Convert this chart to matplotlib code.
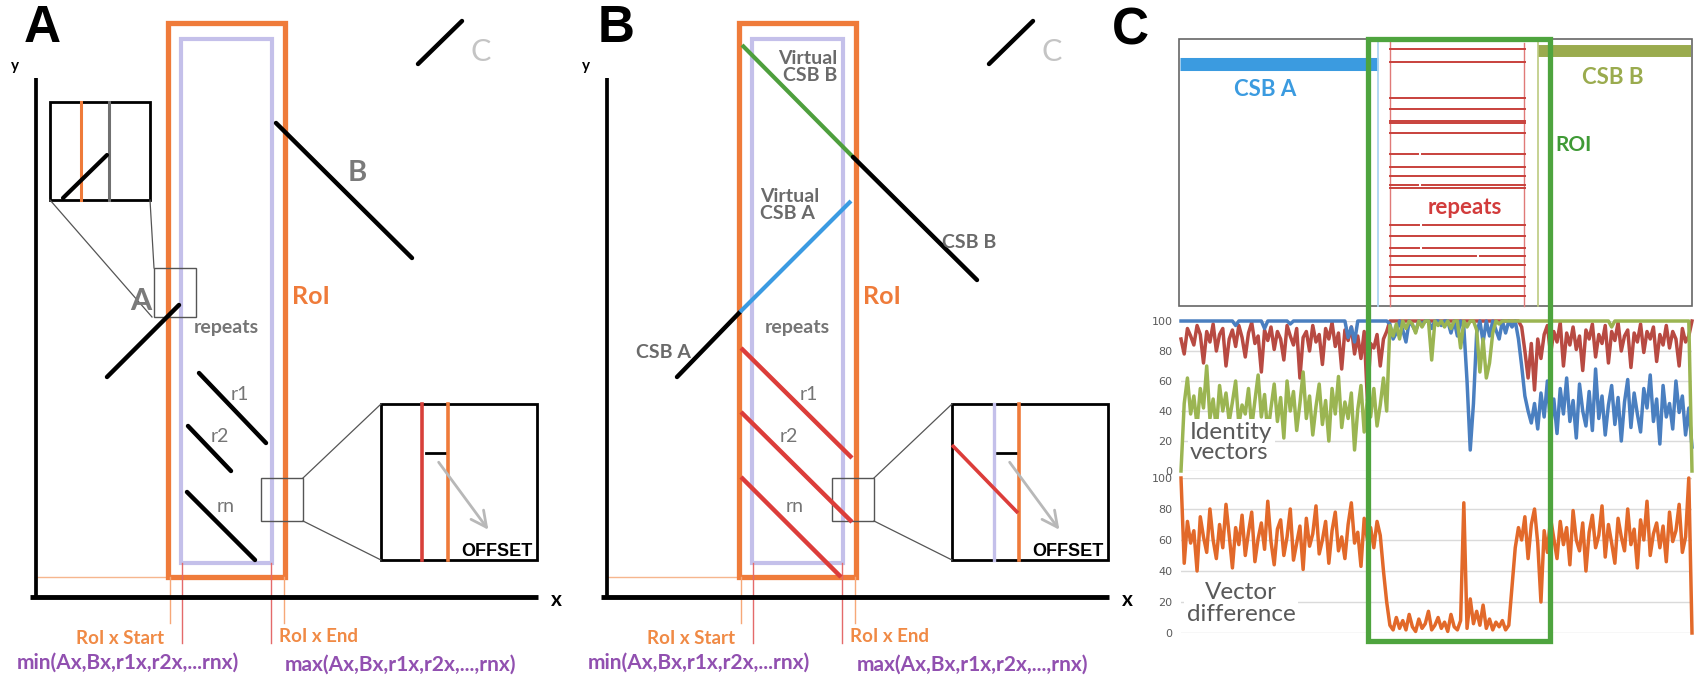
import numpy as np
import matplotlib
matplotlib.use("Agg")
import matplotlib.pyplot as plt
from matplotlib.patches import Rectangle

W, H = 1697, 677
PANEL_W = 571
FONT = ["Lato", "DejaVu Sans"]

ORANGE = "#ef7b3a"
LAVENDER = "#c4c0ea"
RED = "#dc3d3a"
GRAY_TXT = "#757575"
PURPLE = "#9150b0"

# ---- schematic geometry for panels A and B (panel pixels, y grows downward)
roi_box = [168, 23, 285, 577]
span_box = [181, 39, 272, 563]
y_axis = [[36, 78], [36, 597]]
x_axis = [[30, 597], [538, 597]]
seg_C = [[418, 64], [462, 21]]
small_box = [261, 478, 303, 521]
big_box = [381, 404, 537, 560]

# panel A
csb_a_A = [[107, 377], [179, 305]]
csb_b_A = [[276, 123], [412, 258]]
repeats_A = [[[199, 373], [266, 443]], [[188, 426], [231, 471]], [[187, 492], [255, 560]]]
repeat_names = ["r1", "r2", "rn"]
repeat_label_A = [[240, 395], [220, 437], [226, 507]]
left_inset = [50, 102, 150, 200]
left_small = [154, 268, 196, 317]

# panel B
csb_a_B = [[106, 377], [169, 312]]
virtual_a_B = [[169, 312], [280, 201]]
virtual_b_B = [[171, 45], [282, 157]]
csb_b_B = [[282, 157], [406, 280]]
repeats_B = [[[170, 348], [281, 458]], [[170, 412], [281, 522]], [[170, 477], [270, 577]]]
repeat_label_B = [[238, 395], [218, 437], [224, 507]]

# ---- panel C top schematic (figure pixels)
c_box = [1179, 39, 1692, 306]
roi_green = [1368, 39, 1550, 641]
repeat_rows = [49, 62, 98, 109, 121, 123, 133, 154, 167, 176, 185, 188,
               225, 236, 248, 256, 265, 277, 286, 296]
repeat_gaps = {154: 1420, 185: 1420, 225: 1421, 248: 1421, 256: 1478}

# ---- panel C series (identity %, vector difference %)
red_identity = [
    88, 78, 95, 90, 84, 97, 91, 72, 93, 86,
    98, 80, 91, 95, 70, 88, 94, 83, 97, 89,
    76, 92, 99, 85, 90, 66, 94, 87, 96, 81,
    93, 88, 74, 97, 90, 84, 95, 62, 89, 93,
    80, 97, 86, 91, 71, 95, 88, 99, 83, 92,
    68, 94, 87, 96, 78, 90, 75, 93, 47, 85,
    82, 91, 70, 88, 93, 100, 100, 100, 100, 100,
    100, 100, 100, 100, 100, 100, 100, 100, 100, 100,
    100, 100, 100, 100, 100, 100, 100, 100, 100, 100,
    100, 100, 100, 100, 100, 100, 100, 100, 100, 100,
    100, 100, 100, 100, 100, 100, 96, 80, 62, 85,
    54, 88, 75, 91, 97, 78, 93, 86, 99, 70,
    92, 84, 96, 81, 90, 67, 94, 88, 98, 76,
    91, 85, 97, 72, 93, 87, 99, 80, 90, 94,
    69, 92, 86, 98, 79, 93, 88, 96, 73, 91,
    84, 97, 82, 93, 88, 70, 95, 86, 90, 100,
]
blue_identity = [
    100, 100, 100, 100, 100, 100, 100, 100, 100, 100,
    100, 100, 100, 100, 100, 100, 100, 97, 100, 100,
    100, 100, 100, 100, 100, 100, 95, 100, 100, 100,
    100, 100, 100, 100, 98, 100, 100, 100, 100, 100,
    100, 100, 100, 100, 100, 100, 100, 100, 100, 100,
    100, 100, 89, 96, 86, 100, 100, 100, 100, 100,
    100, 100, 100, 100, 100, 98, 88, 92, 100, 94,
    86, 100, 97, 93, 100, 98, 100, 100, 95, 100,
    100, 97, 100, 100, 92, 100, 90, 100, 96, 60,
    14, 45, 92, 100, 86, 100, 90, 100, 94, 88,
    100, 92, 100, 96, 100, 88, 70, 50, 40, 32,
    45, 28, 52, 36, 60, 30, 48, 25, 55, 38,
    62, 33, 47, 22, 58, 40, 30, 53, 27, 68,
    35, 50, 24, 44, 57, 31, 49, 20, 46, 61,
    29, 52, 38, 26, 55, 42, 64, 33, 48, 18,
    57, 36, 45, 28, 60, 39, 50, 24, 42, 16,
]
green_identity = [
    0, 45, 62, 38, 50, 30, 55, 42, 70, 35,
    48, 28, 57, 40, 52, 33, 46, 60, 31, 44,
    38, 55, 29, 47, 64, 36, 51, 25, 42, 58,
    33, 49, 22, 60, 40, 53, 27, 45, 66, 35,
    50, 24, 43, 58, 31, 47, 20, 55, 38, 63,
    29, 46, 35, 52, 14, 41, 57, 26, 48, 36,
    55, 30, 44, 62, 40, 97, 90, 98, 88, 100,
    95, 100, 98, 92, 100, 96, 100, 100, 74, 100,
    97, 100, 96, 100, 95, 100, 100, 82, 100, 96,
    100, 100, 94, 66, 88, 62, 72, 92, 100, 98,
    100, 100, 100, 100, 100, 100, 100, 100, 100, 100,
    100, 100, 100, 100, 100, 100, 100, 100, 100, 100,
    100, 100, 100, 100, 100, 100, 100, 100, 100, 100,
    100, 100, 100, 100, 96, 100, 100, 100, 100, 100,
    100, 100, 100, 100, 100, 100, 100, 100, 100, 100,
    100, 100, 100, 100, 100, 100, 100, 100, 100, 0,
]
orange_difference = [
    100, 45, 72, 58, 66, 40, 75, 62, 52, 80,
    60, 48, 70, 55, 83, 63, 42, 68, 57, 76,
    50, 65, 78, 46, 61, 71, 54, 85, 59, 44,
    67, 73, 50, 62, 80, 47, 58, 69, 41, 74,
    56, 64, 82, 51, 60, 72, 45, 66, 78, 53,
    62, 48, 70, 84, 58, 65, 43, 74, 60, 68,
    55, 72, 63, 40, 20, 5, 2, 10, 3, 8,
    2, 12, 4, 1, 9, 3, 6, 14, 2, 5,
    10, 3, 7, 1, 12, 4, 2, 8, 84, 3,
    22, 6, 14, 5, 18, 3, 9, 2, 7, 4,
    8, 2, 5, 30, 55, 68, 60, 75, 48, 70,
    80, 58, 20, 66, 52, 74, 61, 48, 72, 57,
    68, 44, 79, 60, 53, 71, 40, 65, 76, 55,
    63, 82, 49, 70, 58, 45, 74, 62, 53, 80,
    57, 67, 42, 73, 60, 85, 50, 64, 71, 55,
    69, 46, 78, 59, 66, 83, 52, 62, 100, 0,
]
pct_ticks = [0, 20, 40, 60, 80, 100]


def line(ax, pts, color, lw, cap="round", z=3):
    ax.plot([p[0] for p in pts], [p[1] for p in pts], color=color, lw=lw,
            solid_capstyle=cap, zorder=z)


def rect(ax, box, color, lw, z=2):
    ax.add_patch(Rectangle((box[0], box[1]), box[2] - box[0], box[3] - box[1],
                           fill=False, ec=color, lw=lw, zorder=z))


def panel_axes(fig, left):
    ax = fig.add_axes([left / W, 0, PANEL_W / W, 1])
    ax.set_xlim(0, PANEL_W)
    ax.set_ylim(H, 0)
    ax.axis("off")
    return ax


def draw_frame(ax, letter, letter_x):
    ax.text(letter_x, 29, letter, fontsize=37, fontweight="bold",
            family="Liberation Sans", ha="center", va="center")
    ax.text(15, 66, "y", fontsize=11, fontweight="bold", family=FONT,
            ha="center", va="center")
    ax.text(556, 600, "x", fontsize=15, fontweight="bold", family=FONT,
            ha="center", va="center")
    line(ax, y_axis, "black", 2.7, cap="butt")
    line(ax, x_axis, "black", 3.5, cap="butt")
    rect(ax, roi_box, ORANGE, 3.8)
    rect(ax, span_box, LAVENDER, 3.0)
    # guides down to the x axis labels
    ax.plot([35, roi_box[0]], [577, 577], color="#f6b68e", lw=1, zorder=1)
    ax.plot([roi_box[0] + 2] * 2, [577, 623], color="#f6a878", lw=1)
    ax.plot([roi_box[2] - 1] * 2, [577, 623], color="#f6a878", lw=1)
    ax.plot([span_box[0] + 1] * 2, [563, 643], color="#e46a6a", lw=1)
    ax.plot([span_box[2] - 1] * 2, [563, 643], color="#e46a6a", lw=1)
    ax.text(120, 638, "RoI x Start", fontsize=13.5, fontweight="bold",
            color="#f08a45", family=FONT, ha="center", va="center")
    ax.text(279, 637, "RoI x End", fontsize=13.5, fontweight="bold",
            color="#f08a45", family=FONT, ha="left", va="center")
    ax.text(128, 663, "min(Ax,Bx,r1x,r2x,...rnx)", fontsize=15,
            fontweight="bold", color=PURPLE, family=FONT, ha="center", va="center")
    ax.text(401, 665, "max(Ax,Bx,r1x,r2x,...,rnx)", fontsize=15,
            fontweight="bold", color=PURPLE, family=FONT, ha="center", va="center")
    ax.text(292, 297, "RoI", fontsize=18, fontweight="bold", color=ORANGE,
            family=FONT, ha="left", va="center")
    ax.text(226, 327, "repeats", fontsize=14, fontweight="bold",
            color=GRAY_TXT, family=FONT, ha="center", va="center")
    line(ax, seg_C, "black", 3.2)
    ax.text(481, 52, "C", fontsize=22, color="#c4c4c4", family=FONT,
            ha="center", va="center")
    # zoom boxes on the right side
    rect(ax, small_box, "#555555", 1.0)
    rect(ax, big_box, "black", 2.0)
    ax.plot([small_box[2], big_box[0]], [small_box[1], big_box[1]],
            color="#555555", lw=0.9)
    ax.plot([small_box[2], big_box[0]], [small_box[3], big_box[3]],
            color="#555555", lw=0.9)
    ax.annotate("", xy=(490, 532), xytext=(437, 460),
                arrowprops=dict(arrowstyle="->", color="#b8b8b8", lw=2,
                                mutation_scale=28))
    ax.plot([426, 447], [453, 453], color="black", lw=2)
    ax.plot([448, 448], [big_box[1], big_box[3]], color=ORANGE, lw=2.6)
    ax.text(533, 551, "OFFSET", fontsize=13, fontweight="bold",
            family="Liberation Sans", ha="right", va="center")


def draw_repeats(ax, segs, names, label_xy, color):
    for s, name, xy in zip(segs, names, label_xy):
        line(ax, s, color, 3.2, cap="butt" if color != "black" else "round")
        ax.text(xy[0], xy[1], name, fontsize=14, color=GRAY_TXT, family=FONT,
                ha="center", va="center")


fig = plt.figure(figsize=(W / 100, H / 100), dpi=100)

# ---------------- panel A
axA = panel_axes(fig, 0)
draw_frame(axA, "A", 42)
line(axA, csb_a_A, "black", 3.2)
line(axA, csb_b_A, "black", 3.2)
axA.text(141, 301, "A", fontsize=22, fontweight="bold", color="#7a7a7a",
         family=FONT, ha="center", va="center")
axA.text(357, 173, "B", fontsize=21, fontweight="bold", color="#7a7a7a",
         family=FONT, ha="center", va="center")
draw_repeats(axA, repeats_A, repeat_names, repeat_label_A, "black")
axA.plot([422, 422], [big_box[1], big_box[3]], color="#d8403a", lw=2.6)
# left zoom box
rect(axA, left_inset, "black", 2.0)
rect(axA, left_small, "#555555", 1.0)
axA.plot([81, 81], [left_inset[1], left_inset[3]], color=ORANGE, lw=2.2)
axA.plot([109, 109], [left_inset[1], left_inset[3]], color="#707070", lw=2.2)
line(axA, [[63, 198], [107, 155]], "black", 3.0)
axA.plot([left_inset[0], left_small[0] - 2], [left_inset[3], left_small[3]],
         color="#555555", lw=0.9)
axA.plot([left_inset[2], left_small[0]], [left_inset[3], left_small[1]],
         color="#555555", lw=0.9)

# ---------------- panel B
axB = panel_axes(fig, PANEL_W)
draw_frame(axB, "B", 45)
line(axB, csb_a_B, "black", 3.2)
line(axB, virtual_a_B, "#3b9be2", 3.0, cap="butt")
line(axB, virtual_b_B, "#4e9f3d", 3.0, cap="butt")
line(axB, csb_b_B, "black", 3.2)
axB.text(266, 67, "Virtual\nCSB B", fontsize=14, fontweight="bold",
         color="#6a6a6a", family=FONT, ha="right", va="center",
         multialignment="right", linespacing=0.95)
axB.text(189, 205, "Virtual\nCSB A", fontsize=14, fontweight="bold",
         color="#6a6a6a", family=FONT, ha="left", va="center",
         linespacing=0.95)
axB.text(398, 242, "CSB B", fontsize=14, fontweight="bold", color="#6a6a6a",
         family=FONT, ha="center", va="center")
axB.text(92, 352, "CSB A", fontsize=14, fontweight="bold", color="#6a6a6a",
         family=FONT, ha="center", va="center")
draw_repeats(axB, repeats_B, repeat_names, repeat_label_B, RED)
axB.plot([423, 423], [big_box[1], big_box[3]], color=LAVENDER, lw=2.4)
line(axB, [[381, 445], [447, 513]], RED, 2.6, cap="butt")

# ---------------- panel C, identity vectors
mid = fig.add_axes([1181 / W, (H - 471) / H, 511 / W, 150 / H])
for vals, color in [(red_identity, "#b84a42"), (blue_identity, "#4a7fc0"),
                    (green_identity, "#9bb552")]:
    mid.plot(np.linspace(0, 1, len(vals)), vals, color=color, lw=2.5,
             clip_on=False)
mid.text(0.018, 19, "Identity\nvectors", fontsize=17.5, color="#595959",
         family=FONT, ha="left", va="center", linespacing=0.95, zorder=6,
         bbox=dict(fc="white", ec="none", pad=2))

# ---------------- panel C, vector difference
bot = fig.add_axes([1181 / W, (H - 633) / H, 511 / W, 155 / H])
bot.plot(np.linspace(0, 1, len(orange_difference)), orange_difference,
         color="#e2692a", lw=2.5, clip_on=False)
bot.text(0.118, 19, "Vector\ndifference", fontsize=17.5, color="#595959",
         family=FONT, ha="center", va="center", multialignment="center",
         linespacing=1.1, zorder=6, bbox=dict(fc="white", ec="none", pad=2))

for ax in (mid, bot):
    ax.set_xlim(0, 1)
    ax.set_ylim(0, 100)
    ax.set_yticks(pct_ticks)
    ax.set_xticks([])
    ax.grid(axis="y", color="#dadada", lw=1)
    ax.set_axisbelow(True)
    ax.tick_params(length=0, labelsize=8, labelcolor="#5a5a5a", pad=6)
    for s in ax.spines.values():
        s.set_visible(False)

# ---------------- panel C overlay (top schematic + ROI frame)
ov = fig.add_axes([0, 0, 1, 1])
ov.set_xlim(0, W)
ov.set_ylim(H, 0)
ov.axis("off")
ov.text(1130, 31, "C", fontsize=37, fontweight="bold", family="Liberation Sans",
        ha="center", va="center")
rect(ov, c_box, "#666666", 1.2)
ov.plot([1180, 1378], [63.5, 63.5], color="#3b9be0", lw=9.4, solid_capstyle="butt")
ov.plot([1538, 1691], [51, 51], color="#9aab4e", lw=8.6, solid_capstyle="butt")
ov.plot([1378, 1378], [c_box[1], c_box[3]], color="#acd6f2", lw=1.3)
ov.plot([1538, 1538], [c_box[1], c_box[3]], color="#bccb80", lw=1.2)
ov.plot([1390, 1390], [c_box[1], c_box[3]], color="#e07a78", lw=1.0)
ov.plot([1524, 1524], [c_box[1] + 4, c_box[3]], color="#e07a78", lw=1.0)
for y in repeat_rows:
    if y in repeat_gaps:
        g = repeat_gaps[y]
        ov.plot([1390, g - 2], [y, y], color="#c8413c", lw=1.4)
        ov.plot([g + 2, 1525], [y, y], color="#c8413c", lw=1.4)
    else:
        ov.plot([1390, 1525], [y, y], color="#c8413c", lw=1.4)
ov.text(1265, 89, "CSB A", fontsize=16, fontweight="bold", color="#3b9be0",
        family=FONT, ha="center", va="center")
ov.text(1613, 77, "CSB B", fontsize=16, fontweight="bold", color="#9aab4e",
        family=FONT, ha="center", va="center")
ov.text(1555, 145, "ROI", fontsize=15, fontweight="bold", color="#3f9a36",
        family=FONT, ha="left", va="center")
ov.text(1465, 207, "repeats", fontsize=16, fontweight="bold", color="#d23c3c",
        family=FONT, ha="center", va="center")
rect(ov, roi_green, "#4ea43e", 3.8, z=5)

fig.savefig("out.png", dpi=100)
